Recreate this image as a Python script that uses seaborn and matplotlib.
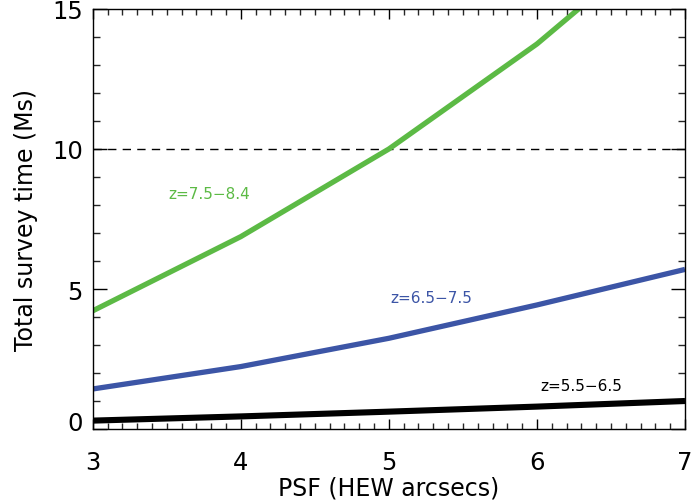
import numpy as np
import pandas as pd
import seaborn as sns
import matplotlib
matplotlib.use("Agg")
import matplotlib.pyplot as plt
from matplotlib.ticker import MultipleLocator
from matplotlib.transforms import ScaledTranslation

# PSF half-energy width (arcsec) and total survey time (Ms) per redshift bin
psf = [3, 4, 5, 6, 7]
time_z55_65 = [0.30, 0.45, 0.62, 0.80, 1.00]
time_z65_75 = [1.43, 2.23, 3.24, 4.43, 5.70]
time_z75_84 = [4.22, 6.87, 10.00, 13.75, 18.20]

labels = ["z=5.5\u22126.5", "z=6.5\u22127.5", "z=7.5\u22128.4"]
colors = ["#000000", "#3c55a6", "#5cba45"]

df = pd.concat([
    pd.DataFrame({"psf": psf, "time": t, "bin": lab})
    for t, lab in zip([time_z55_65, time_z65_75, time_z75_84], labels)
])

sns.set_style("white")
plt.rcParams["font.family"] = ["DejaVu Sans"]
plt.rcParams["text.color"] = "black"
plt.rcParams["axes.labelcolor"] = "black"

fig = plt.figure(figsize=(6.96, 5.02), dpi=100)
ax = fig.add_axes([0.1332, 0.1434, 0.9842 - 0.1332, 0.9801 - 0.1434])

sns.lineplot(data=df, x="psf", y="time", hue="bin", palette=dict(zip(labels, colors)),
             linewidth=3.8, legend=False, ax=ax, solid_capstyle="butt")
# the lowest bin is drawn slightly heavier
ax.lines[0].set_linewidth(4.4)

ax.axhline(10, color="black", lw=1.0, ls=(0, (6, 4.5)), zorder=1)

ax.set_xlim(3, 7)
ax.set_ylim(0, 15)
ax.xaxis.set_major_locator(MultipleLocator(1))
ax.xaxis.set_minor_locator(MultipleLocator(0.1))
ax.yaxis.set_major_locator(MultipleLocator(5))
ax.yaxis.set_minor_locator(MultipleLocator(1))

ax.tick_params(axis="x", which="major", direction="in", length=7, width=1,
               top=True, bottom=True, labelsize=17.5, pad=15, colors="black")
ax.tick_params(axis="x", which="minor", direction="in", length=4, width=1,
               top=True, bottom=True)
ax.tick_params(axis="y", which="major", direction="in", length=10, width=1,
               left=True, right=True, labelsize=17.5, pad=7, colors="black")
ax.tick_params(axis="y", which="minor", direction="in", length=5, width=1,
               left=True, right=True)

for s in ax.spines.values():
    s.set_color("black")
    s.set_linewidth(1.0)

ax.set_xlabel("PSF (HEW arcsecs)", fontsize=17, labelpad=1, color="black")
ax.set_ylabel("Total survey time (Ms)", fontsize=17, labelpad=10, color="black")

# lift the zero label clear of the x-axis labels
fig.canvas.draw()
for lab in ax.get_yticklabels():
    if lab.get_text() in ("0", "\u22120"):
        lab.set_transform(lab.get_transform() + ScaledTranslation(0, 0.09, fig.dpi_scale_trans))

ax.text(3.79, 8.4, labels[2], color=colors[2], fontsize=11, ha="center", va="center")
ax.text(5.29, 4.7, labels[1], color=colors[1], fontsize=11, ha="center", va="center")
ax.text(6.30, 1.55, labels[0], color=colors[0], fontsize=11, ha="center", va="center")

fig.savefig("out.png", dpi=100)
